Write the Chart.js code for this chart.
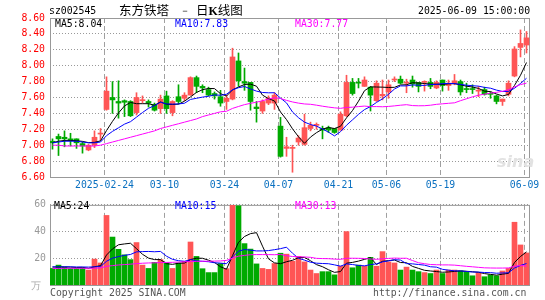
<!DOCTYPE html>
<html><head><meta charset="utf-8">
<script src="https://cdn.jsdelivr.net/npm/chart.js@4.4.1/dist/chart.umd.min.js"></script>
<style>
html,body{margin:0;padding:0;background:#fff;}
body{width:545px;height:300px;overflow:hidden;position:relative;}
.t{position:absolute;white-space:pre;font-family:"DejaVu Sans Mono",monospace;font-size:9.8px;line-height:12px;}
.cjk{position:absolute;white-space:pre;font-family:"Noto Sans CJK SC",sans-serif;font-size:12.5px;line-height:14px;color:#000;}
canvas{position:absolute;left:0;}
</style></head><body>
<canvas id="c1" width="545" height="195" style="top:0"></canvas>
<canvas id="c2" width="545" height="105" style="top:195px"></canvas>

<div class="t" style="left:49px;top:5px;color:#000">sz002545</div>
<div class="cjk" style="left:119px;top:3px">东方铁塔</div>
<div class="t" style="left:180px;top:5px;color:#000">－</div>
<div class="cjk" style="left:196px;top:3px">日<span style="font-family:'Liberation Serif';font-weight:bold;font-size:12px">K</span>线图</div>
<div class="t" style="left:418px;top:5px;color:#000">2025-06-09 15:00:00</div>

<div class="t" style="left:55px;top:18px;color:#000">MA5:8.04</div>
<div class="t" style="left:175px;top:18px;color:#0000ff">MA10:7.83</div>
<div class="t" style="left:295px;top:18px;color:#ff00ff">MA30:7.77</div>

<div class="t" style="left:54px;top:200px;color:#000">MA5:24</div>
<div class="t" style="left:175px;top:200px;color:#0000ff">MA10:15</div>
<div class="t" style="left:295px;top:200px;color:#ff00ff">MA30:13</div>

<div class="t" style="left:31px;top:280px;color:#aaa">万</div>
<div class="t" style="left:50px;top:287px;color:#555">Copyright 2025 SINA.COM</div>
<div class="t" style="left:373px;top:287px;color:#555">http://finance.sina.com.cn</div>
<div style="position:absolute;left:497px;top:152px;font-family:'DejaVu Sans';font-weight:bold;font-style:italic;font-size:16px;color:#e2e2e2">sina</div>

<script>
// ---- data ----
const dates = ['2025-02-11','2025-02-12','2025-02-13','2025-02-14','2025-02-17','2025-02-18','2025-02-19','2025-02-20','2025-02-21','2025-02-24',
'2025-02-25','2025-02-26','2025-02-27','2025-02-28','2025-03-03','2025-03-04','2025-03-05','2025-03-06','2025-03-07','2025-03-10',
'2025-03-11','2025-03-12','2025-03-13','2025-03-14','2025-03-17','2025-03-18','2025-03-19','2025-03-20','2025-03-21','2025-03-24',
'2025-03-25','2025-03-26','2025-03-27','2025-03-28','2025-03-31','2025-04-01','2025-04-02','2025-04-03','2025-04-07','2025-04-08',
'2025-04-09','2025-04-10','2025-04-11','2025-04-14','2025-04-15','2025-04-16','2025-04-17','2025-04-18','2025-04-21','2025-04-22',
'2025-04-23','2025-04-24','2025-04-25','2025-04-28','2025-04-29','2025-04-30','2025-05-06','2025-05-07','2025-05-08','2025-05-09',
'2025-05-12','2025-05-13','2025-05-14','2025-05-15','2025-05-16','2025-05-19','2025-05-20','2025-05-21','2025-05-22','2025-05-23',
'2025-05-26','2025-05-27','2025-05-28','2025-05-29','2025-05-30','2025-06-03','2025-06-04','2025-06-05','2025-06-06','2025-06-09'];

const tickDates  = ['2025-02-24','2025-03-10','2025-03-24','2025-04-07','2025-04-21','2025-05-06','2025-05-19','2025-06-09'];
const tickLabels = ['2025-02-24','03-10','03-24','04-07','04-21','05-06','05-19','06-09'];
const priceTicks = [6.6,6.8,7.0,7.2,7.4,7.6,7.8,8.0,8.2,8.4,8.6];
const volTicks = [20,40,60];

const open = [7.05,7.11,7.10,7.08,7.08,7.02,6.94,7.00,7.14,7.45,
7.60,7.55,7.56,7.55,7.41,7.56,7.55,7.51,7.46,7.62,
7.41,7.61,7.59,7.63,7.85,7.74,7.70,7.65,7.61,7.55,
7.58,8.06,7.80,7.79,7.48,7.43,7.53,7.53,7.24,6.96,
6.96,7.04,7.01,7.21,7.25,7.21,7.22,7.21,7.19,7.37,
7.79,7.79,7.74,7.73,7.56,7.62,7.67,7.82,7.83,7.78,
7.82,7.79,7.79,7.79,7.72,7.82,7.75,7.78,7.80,7.71,
7.71,7.68,7.70,7.65,7.62,7.55,7.64,7.87,8.23,8.26];
const high = [7.08,7.14,7.18,7.15,7.08,7.04,7.01,7.18,7.21,7.86,
7.80,7.81,7.57,7.56,7.66,7.62,7.57,7.53,7.63,7.68,
7.56,7.76,7.66,7.86,7.87,7.76,7.73,7.67,7.69,7.63,
8.22,8.16,7.97,7.79,7.55,7.57,7.62,7.66,7.35,7.10,
7.00,7.12,7.39,7.29,7.28,7.24,7.24,7.21,7.42,7.88,
7.84,7.84,7.86,7.74,7.81,7.82,7.82,7.86,7.87,7.83,
7.87,7.79,7.81,7.84,7.81,7.82,7.82,7.89,7.82,7.78,
7.76,7.74,7.73,7.67,7.63,7.58,7.81,8.24,8.45,8.43];
const low = [6.95,6.87,6.98,6.99,6.96,6.90,6.93,6.97,7.06,7.44,
7.40,7.34,7.36,7.36,7.38,7.53,7.48,7.43,7.40,7.40,
7.37,7.52,7.56,7.63,7.66,7.66,7.62,7.58,7.49,7.45,
7.57,7.74,7.69,7.44,7.29,7.40,7.51,7.45,6.85,6.86,
6.66,7.00,7.00,7.18,7.20,7.08,7.16,7.15,7.19,7.36,
7.63,7.72,7.74,7.43,7.55,7.57,7.59,7.80,7.77,7.66,
7.73,7.67,7.68,7.71,7.71,7.68,7.69,7.76,7.63,7.66,
7.65,7.61,7.63,7.59,7.52,7.50,7.62,7.86,8.11,8.16];
const close = [7.03,7.08,7.08,7.06,7.03,6.99,7.00,7.10,7.15,7.68,
7.57,7.53,7.54,7.37,7.60,7.57,7.53,7.44,7.58,7.46,
7.55,7.55,7.63,7.85,7.74,7.72,7.63,7.62,7.53,7.59,
8.11,7.81,7.78,7.55,7.46,7.55,7.59,7.63,6.86,6.98,
6.97,7.09,7.22,7.25,7.26,7.19,7.19,7.16,7.39,7.79,
7.65,7.78,7.82,7.63,7.78,7.64,7.76,7.83,7.78,7.79,
7.77,7.74,7.80,7.74,7.79,7.75,7.78,7.81,7.67,7.70,
7.70,7.69,7.64,7.64,7.55,7.58,7.78,8.21,8.28,8.35];
const volume = [12.4,14.9,13.4,12.4,12.4,12.9,11.2,19.4,16.5,52.1,
35.9,26.7,22.6,19.0,31.8,14.9,12.4,17.0,19.0,16.5,
12.4,16.5,17.8,32.2,21.4,12.2,9.3,9.3,16.1,12.2,
63.0,59.3,31.0,26.9,15.8,12.4,11.7,16.1,23.8,23.1,
17.8,21.4,17.3,11.2,8.6,10.0,10.0,7.6,14.1,40.0,
12.9,14.9,14.1,20.7,14.1,25.0,17.3,16.5,11.2,13.4,
11.2,10.0,9.3,8.6,11.2,8.6,11.2,11.2,10.5,9.8,
6.9,9.3,6.2,7.6,6.9,10.5,12.4,47.0,30.0,24.0];

// moving-average values before a full window exists
const ma5Lead  = [7.03,7.05,7.06,7.06];
const ma10Lead = [7.03,7.04,7.05,7.05,7.05,7.04,7.03,7.03,7.04];
const ma30Lead = [7.00,7.00,6.99,6.99,6.99,6.99,6.99,6.99,7.00,7.02,7.04,7.06,7.08,7.10,7.12,7.14,7.16,7.18,7.21,7.23,7.25,7.27,7.29,7.31,7.33,7.36,7.38,7.40,7.42];
const vma5Lead  = [13.4,13.5,13.5,13.4];
const vma10Lead = [13.6,13.6,13.6,13.6,13.5,13.5,13.4,13.6,13.8];
const vma30Lead = [12.4,12.4,12.5,12.5,12.5,12.5,12.5,12.6,12.8,14.0,14.5,15.0,15.3,15.6,16.0,16.3,16.5,16.6,16.8,16.9,17.0,17.2,17.4,17.6,17.7,17.8,17.8,17.9,18.0];

// ---- derived ----
function movingAvg(src, n, lead){
  return src.map((v,i)=> i < n-1 ? lead[i] : src.slice(i-n+1,i+1).reduce((a,b)=>a+b,0)/n);
}
const RED='#ff5555', GREEN='#00aa00';
const colors = close.map((c,i)=> c >= open[i] ? RED : GREEN);
const tickIdx = tickDates.map(d=>dates.indexOf(d));
const pts = arr => arr.map((v,i)=>({x:i,y:v}));

const frame = {
  id:'frame',
  beforeDatasetsDraw(chart){
    const a = chart.chartArea, ctx = chart.ctx;
    ctx.save(); ctx.strokeStyle='#999'; ctx.lineWidth=1;
    ctx.strokeRect(a.left+0.5, a.top+0.5, a.right-a.left-1, a.bottom-a.top);
    ctx.restore();
  }
};
const monoFont = {family:'DejaVu Sans Mono', size:9.8};
const X_MIN = -5/12, X_MAX = dates.length - 5/12;
const xScale = (h, showLabels) => ({
  type:'linear', min:X_MIN, max:X_MAX, offset:false, bounds:'ticks',
  afterFit: s=>{ s.height=h; s.paddingLeft=0; s.paddingRight=0; },
  afterBuildTicks: s=>{ s.ticks = tickIdx.map(i=>({value:i-1/3})); },
  ticks:{ display:showLabels, callback:(v,k)=>tickLabels[k], color:'#0a70c0', font:monoFont, padding:3, maxRotation:0, autoSkip:false },
  grid:{ color:'#a0a0a0', drawTicks:false, lineWidth:1, offset:false },
  border:{ display:false, dash:[5,3] }
});
const line = (label, data, color) => ({type:'line', label, data:pts(data), borderColor:color, borderWidth:1, pointRadius:0, tension:0, order:0});

new Chart(document.getElementById('c1'), {
  type:'bar',
  data:{ datasets:[
    line('MA30', movingAvg(close,30,ma30Lead), '#ff00ff'),
    line('MA10', movingAvg(close,10,ma10Lead), '#0000ff'),
    line('MA5',  movingAvg(close,5,ma5Lead),  '#000000'),
    {type:'bar', label:'wick', data: low.map((l,i)=>({x:i,y:[l,high[i]]})), backgroundColor:colors, barThickness:1, grouped:false, order:2},
    {type:'bar', label:'body', data: open.map((o,i)=>({x:i,y:[o,close[i]]})), backgroundColor:colors, barThickness:5, minBarLength:1, grouped:false, order:1}
  ]},
  options:{
    responsive:false, animation:false, events:[],
    layout:{padding:{left:0,right:15,top:18,bottom:0}},
    plugins:{legend:{display:false}, tooltip:{enabled:false}},
    scales:{
      x: xScale(18, true),
      y:{ min:6.6, max:8.6,
          afterFit: s=>{ s.width=50; },
          afterBuildTicks: s=>{ s.ticks = priceTicks.map(v=>({value:v})); },
          ticks:{ callback:v=>v.toFixed(2), color:'#ff0000', font:monoFont, padding:5 },
          grid:{ color:'#999999', drawTicks:false },
          border:{ display:false, dash:[1,2] } }
    }
  },
  plugins:[frame]
});

new Chart(document.getElementById('c2'), {
  type:'bar',
  data:{ datasets:[
    line('MA30', movingAvg(volume,30,vma30Lead), '#ff00ff'),
    line('MA10', movingAvg(volume,10,vma10Lead), '#0000ff'),
    line('MA5',  movingAvg(volume,5,vma5Lead),  '#000000'),
    {type:'bar', label:'vol', data: pts(volume), backgroundColor:colors, barThickness:5, grouped:false, order:1}
  ]},
  options:{
    responsive:false, animation:false, events:[],
    layout:{padding:{left:0,right:15,top:7,bottom:0}},
    plugins:{legend:{display:false}, tooltip:{enabled:false}},
    scales:{
      x: xScale(15, false),
      y:{ min:0, max:60,
          afterFit: s=>{ s.width=50; },
          afterBuildTicks: s=>{ s.ticks = volTicks.map(v=>({value:v})); },
          ticks:{ color:'#999', font:monoFont, padding:4 },
          grid:{ color:'#999999', drawTicks:false },
          border:{ display:false, dash:[1,2] } }
    }
  },
  plugins:[frame]
});
</script>
</body></html>
